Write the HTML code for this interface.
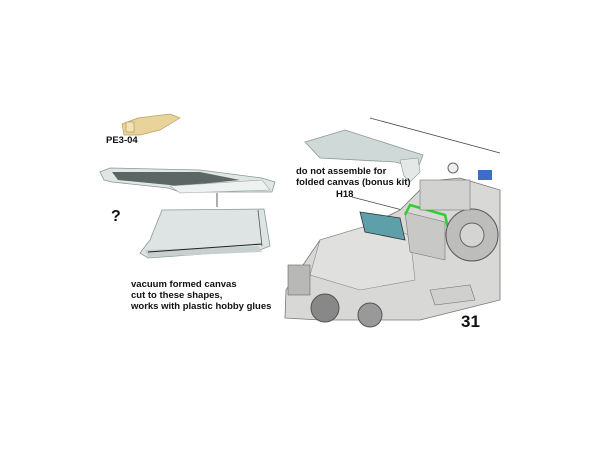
<!DOCTYPE html>
<html><head><style>
body{margin:0;width:600px;height:450px;background:#fff;overflow:hidden;position:relative;font-family:"Liberation Sans",Arial,sans-serif}
.t{position:absolute;font-weight:bold;font-size:9.5px;color:#111;line-height:11px;white-space:nowrap}
</style></head><body>
<svg width="600" height="450" style="position:absolute;left:0;top:0">
<!-- PE3-04 part -->
<polygon points="122,124 138,118 170,114 180,118 160,130 140,135 124,135" fill="#e8d49a" stroke="#b9a060" stroke-width="0.7"/>
<rect x="126" y="122" width="8" height="10" fill="#f2e4b8" stroke="#a89050" stroke-width="0.6"/>
<!-- top canvas -->
<polygon points="100,172 110,168 200,170 262,178 275,182 272,192 180,192 168,188 112,182 104,180" fill="#dfe6e4" stroke="#8a9896" stroke-width="0.8"/>
<polygon points="112,172 200,172 240,180 180,186 118,180" fill="#5c6664"/>
<polygon points="170,186 262,180 270,190 180,193" fill="#edf1f0" stroke="#9aa6a4" stroke-width="0.6"/>
<line x1="217" y1="193" x2="217" y2="207" stroke="#333" stroke-width="0.8"/>
<!-- lower canvas -->
<polygon points="162,210 264,209 270,246 260,250 148,258 140,253 150,240" fill="#dde4e3" stroke="#8a9896" stroke-width="0.8"/>
<polygon points="145,250 258,246 262,252 148,257" fill="#c8d0cf"/>
<path d="M148,252 L262,244" stroke="#222" stroke-width="1"/>
<path d="M258,210 L262,246" stroke="#555" stroke-width="0.8"/>
<!-- right canvas -->
<polygon points="305,142 345,130 423,155 418,168 395,162 320,158" fill="#cfd9d8" stroke="#8a9896" stroke-width="0.8"/>
<polygon points="400,160 418,158 420,172 410,182 404,176" fill="#e4e9e8" stroke="#8a9896" stroke-width="0.6"/>
<line x1="370" y1="118" x2="500" y2="153" stroke="#444" stroke-width="0.8"/>
<line x1="352" y1="197" x2="410" y2="212" stroke="#444" stroke-width="0.7"/>
<!-- vehicle body -->
<polygon points="286,290 320,240 370,225 400,210 420,190 440,180 460,178 500,190 500,300 460,310 420,320 380,320 320,320 285,318" fill="#d8d8d6" stroke="#777" stroke-width="0.8"/>
<polygon points="320,240 370,225 410,235 415,280 360,290 310,275" fill="#e0e0de" stroke="#888" stroke-width="0.6"/>
<polygon points="360,212 400,218 405,240 365,232" fill="#5ea0aa" stroke="#333" stroke-width="0.8"/>
<polygon points="405,212 445,222 445,260 410,252" fill="#c8c8c6" stroke="#777" stroke-width="0.6"/>
<path d="M405,215 L410,205 L445,215 L448,228" stroke="#3c3" stroke-width="2.5" fill="none"/>
<circle cx="472" cy="235" r="26" fill="#bdbdbb" stroke="#555" stroke-width="1"/>
<circle cx="472" cy="235" r="12" fill="#d4d4d2" stroke="#666"/>
<rect x="420" y="180" width="50" height="30" fill="#d2d2d0" stroke="#777" stroke-width="0.6"/>
<rect x="478" y="170" width="14" height="10" fill="#3a6fc8"/>
<circle cx="453" cy="168" r="5" fill="#eee" stroke="#666"/>
<circle cx="325" cy="308" r="14" fill="#888" stroke="#555"/>
<circle cx="370" cy="315" r="12" fill="#999" stroke="#555"/>
<rect x="288" y="265" width="22" height="30" fill="#b8b8b6" stroke="#666" stroke-width="0.6"/>
<polygon points="430,290 470,285 475,300 435,305" fill="#d0d0ce" stroke="#777" stroke-width="0.6"/>
</svg>
<div class="t" style="left:106px;top:135px">PE3-04</div>
<div class="t" style="left:111px;top:208px;font-size:16px;line-height:18px">?</div>
<div class="t" style="left:131px;top:279px">vacuum formed canvas<br>cut to these shapes,<br>works with plastic hobby glues</div>
<div class="t" style="left:296px;top:166px">do not assemble for<br>folded canvas (bonus kit)</div>
<div class="t" style="left:336px;top:189px">H18</div>
<div class="t" style="left:461px;top:312px;font-size:17px;line-height:19px">31</div>
</body></html>
